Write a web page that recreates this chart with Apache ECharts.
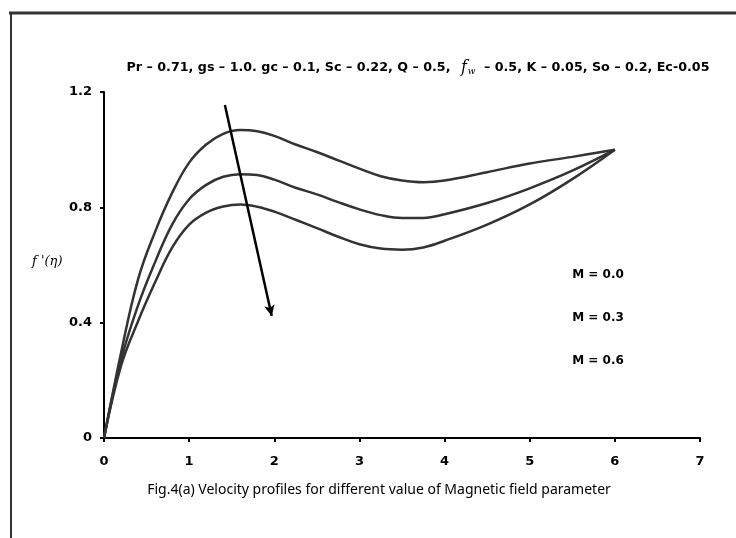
<!DOCTYPE html>
<html><head><meta charset="utf-8">
<script src="https://cdn.jsdelivr.net/npm/echarts@6/dist/echarts.min.js"></script>
<style>html,body{margin:0;padding:0;background:#fff}#c{width:736px;height:538px}</style>
</head><body><div id="c"></div>
<script>
const etaValues   = [0,0.2,0.4,0.6,0.8,1.0,1.2,1.4,1.6,1.8,2.0,2.25,2.5,2.75,3.0,3.25,3.5,3.75,4.0,4.5,5.0,5.5,6.0];
const velocityM00 = [0,0.295,0.55,0.715,0.85,0.955,1.018,1.055,1.068,1.064,1.048,1.018,0.992,0.963,0.934,0.908,0.893,0.887,0.893,0.922,0.952,0.975,1.0];
const velocityM03 = [0,0.27,0.46,0.61,0.74,0.828,0.878,0.906,0.915,0.912,0.896,0.868,0.845,0.818,0.793,0.773,0.763,0.763,0.776,0.815,0.866,0.927,1.0];
const velocityM06 = [0,0.25,0.405,0.54,0.66,0.74,0.782,0.803,0.81,0.802,0.785,0.757,0.728,0.698,0.672,0.657,0.653,0.661,0.684,0.74,0.81,0.898,1.0];
const seriesNames = ['M = 0.0','M = 0.3','M = 0.6'];
const xTicks = [0,1,2,3,4,5,6,7];
const yTicks = [0,0.4,0.8,1.2];
const arrowStart = [1.42,1.155];
const arrowEnd = [1.97,0.423];

const chart = echarts.init(document.getElementById('c'), null, {renderer:'canvas'});
const pair = ys => etaValues.map((x,i)=>[x,ys[i]]);
const lineStyle = {color:'#333', width:2.5};
const tickFont = {color:'#000', fontWeight:'bold', fontSize:13, fontFamily:'DejaVu Sans'};
const lineBase = {type:'line', smooth:0.4, showSymbol:false, lineStyle:lineStyle};
const legendFont = {fontSize:12, fontWeight:'bold', fontFamily:'DejaVu Sans', fill:'#000', align:'center', verticalAlign:'middle'};
chart.setOption({
  animation:false,
  backgroundColor:'#fff',
  grid:{left:104, right:36, top:92, bottom:100},
  xAxis:{type:'value', min:xTicks[0], max:xTicks[xTicks.length-1], interval:1,
    axisLine:{lineStyle:{color:'#000', width:2}},
    axisTick:{show:true, length:4, lineStyle:{color:'#000', width:2}},
    splitLine:{show:false},
    axisLabel:Object.assign({margin:17}, tickFont)},
  yAxis:{type:'value', min:yTicks[0], max:yTicks[yTicks.length-1], interval:0.4,
    axisLine:{show:true, lineStyle:{color:'#000', width:2}},
    axisTick:{show:true, length:4, lineStyle:{color:'#000', width:2}},
    splitLine:{show:false},
    axisLabel:Object.assign({margin:12, formatter:v=> v===0?'0':v.toFixed(1)}, tickFont)},
  series:[
    Object.assign({name:seriesNames[0], data:pair(velocityM00),
      markLine:{silent:true, symbol:['none','arrow'], symbolSize:[8,11], label:{show:false},
        lineStyle:{color:'#000', width:2.5, type:'solid'},
        data:[[{coord:arrowStart},{coord:arrowEnd}]]}}, lineBase),
    Object.assign({name:seriesNames[1], data:pair(velocityM03)}, lineBase),
    Object.assign({name:seriesNames[2], data:pair(velocityM06)}, lineBase)
  ],
  graphic:[
    {type:'line', shape:{x1:9,y1:13,x2:736,y2:13}, style:{stroke:'#333', lineWidth:3}},
    {type:'line', shape:{x1:11,y1:12,x2:11,y2:538}, style:{stroke:'#333', lineWidth:2}},
    {type:'text', x:418, y:68, style:{
      text:'{a|Pr – 0.71, gs – 1.0. gc – 0.1, Sc – 0.22, Q – 0.5, }{f|f}{s|w}{a| – 0.5, K – 0.05, So – 0.2, Ec-0.05}',
      align:'center', verticalAlign:'middle',
      rich:{a:{fontSize:12.7, fontWeight:'bold', fontFamily:'DejaVu Sans', fill:'#000'},
            f:{fontSize:16, fontStyle:'italic', fontFamily:'DejaVu Serif', fill:'#000', padding:[0,1,0,6]},
            s:{fontSize:9, fontStyle:'italic', fontFamily:'DejaVu Serif', fill:'#000', padding:[8,4,0,0]}}}},
    {type:'text', x:32, y:262, style:{text:"f '(η)", fontSize:13, fontStyle:'italic', fontFamily:'DejaVu Serif', fill:'#000', verticalAlign:'middle'}},
    {type:'text', x:598, y:275, style:Object.assign({text:seriesNames[0]}, legendFont)},
    {type:'text', x:598, y:318, style:Object.assign({text:seriesNames[1]}, legendFont)},
    {type:'text', x:598, y:361, style:Object.assign({text:seriesNames[2]}, legendFont)},
    {type:'text', x:379, y:490, style:{text:'Fig.4(a) Velocity profiles for different value of Magnetic field parameter', fontSize:14, fontFamily:'Noto Sans', fill:'#000', align:'center', verticalAlign:'middle'}}
  ]
});
</script></body></html>
